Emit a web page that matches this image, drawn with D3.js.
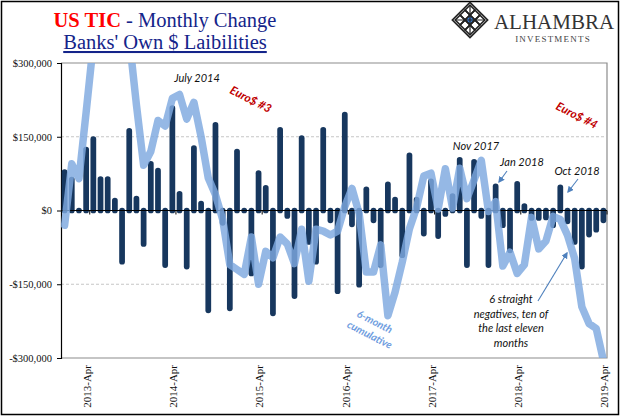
<!DOCTYPE html>
<html>
<head>
<meta charset="utf-8">
<script src="https://cdn.jsdelivr.net/npm/d3@7/dist/d3.min.js"></script>
<style>
  html, body { margin: 0; padding: 0; background: #ffffff; }
  svg { display: block; }
</style>
</head>
<body>
<div id="chart"></div>
<script>
"use strict";

// monthly change, thousands of dollars, Jan 2013 .. Apr 2019
const MONTH_FIRST = "2013-01";
const MONTH_LAST = "2019-04";
const MONTHLY_CHANGE = [
  78, 63, 0, 124, 145, 64, 64, 20, -104, 162, 24, -68,
  95, 81, -111, 208, 34, -114, 127, 14, -203, 174, -25, -199,
  120, 0, -128, 76, 46, -209, 164, -11, -174, 147, -64, -104,
  164, -20, -164, 195, -28, -151, 43, -20, -111, 53, 22, -91,
  112, 22, -47, 59, -52, -7, 29, 103, -111, 99, -11, -111,
  49, -30, -81, 54, 9, -15, -15, -14, -30, 47, -22, -64,
  -114, -49, -39, -20
];
// 6-month cumulative (clipped above $300,000)
const SIX_MONTH = [
  -30, 95, 65, 200, 340, 470, 460, 415, 310, 350, 215, 92,
  120, 183, 172, 228, 236, 186, 220, 150, 66, 32, -18, -110,
  -120, -130, -54, -150, -83, -96, -54, -68, -108, -38, -144, -38,
  -42, -50, -42, 8, 45, -6, -125, -125, -70, -214, -166, -105,
  -37, 6, 70, 76, 3, 85, 5, 86, 24, 62, 102, -2,
  18, -113, -85, -128, -110, -14, -78, -62, -12, -18, -50, -98,
  -196, -230, -240, -305
];
const Y_TICKS = [-300000, -150000, 0, 150000, 300000];
const X_TICK_LABELS = ["2013-Apr", "2014-Apr", "2015-Apr", "2016-Apr", "2017-Apr", "2018-Apr", "2019-Apr"];

const WIDTH = 623;
const HEIGHT = 420;
const PLOT = { left: 61, right: 607, top: 63, bottom: 358 };
const BAR_COLOR = "#17375e";
const LINE_COLOR = "#7ea8df";
const SERIF = '"Liberation Serif", "Times New Roman", serif';
const SANS = 'Lato, "Open Sans", sans-serif';

const parseMonth = d3.timeParse("%Y-%m");
const monthKey = d3.timeFormat("%Y-%b");
const months = d3.timeMonth.range(parseMonth(MONTH_FIRST), d3.timeMonth.offset(parseMonth(MONTH_LAST), 1)).map(monthKey);

const rows = months.map(function toRow(key, index) {
  return { key: key, change: MONTHLY_CHANGE[index] * 1000, cumulative: SIX_MONTH[index] * 1000 };
});

const svg = d3.select("#chart").append("svg").attr("width", WIDTH).attr("height", HEIGHT);

const x = d3.scaleBand().domain(months).range([PLOT.left, PLOT.right]).paddingInner(0.2).paddingOuter(0.1);
const y = d3.scaleLinear().domain([-300000, 300000]).range([PLOT.bottom, PLOT.top]);
const center = function centerOf(key) { return x(key) + x.bandwidth() / 2; };

const money = d3.formatLocale({ decimal: ".", thousands: ",", grouping: [3], currency: ["$", ""], minus: "-" }).format("$,.0f");

// outer frame
svg.append("rect").attr("x", 1.5).attr("y", 1.5).attr("width", 617).attr("height", 413)
  .attr("fill", "none").attr("stroke", "#000").attr("stroke-width", 1.5);

// title
const title = svg.append("text").attr("x", 165).attr("y", 27).attr("text-anchor", "middle")
  .attr("font-family", SERIF).attr("font-size", 20.5);
title.append("tspan").attr("fill", "#ff0000").attr("font-weight", "bold").text("US TIC");
title.append("tspan").attr("fill", "#14248a").text(" - Monthly Change");
svg.append("text").attr("x", 165).attr("y", 49).attr("text-anchor", "middle")
  .attr("font-family", SERIF).attr("font-size", 20.5).attr("fill", "#14248a")
  .attr("text-decoration", "underline").text("Banks' Own $ Laibilities");

// logo
const logo = svg.append("g").attr("transform", "translate(470,20) rotate(45)");
const cells = [-1, 0, 1];
cells.forEach(function row(r) {
  cells.forEach(function col(c) {
    logo.append("rect").attr("x", c * 7 - 3.5).attr("y", r * 7 - 3.5).attr("width", 7).attr("height", 7)
      .attr("fill", r === 0 && c === 0 ? "#3d7fd6" : "none").attr("stroke", "#222").attr("stroke-width", 1.6);
  });
});
logo.append("rect").attr("x", -12.5).attr("y", -12.5).attr("width", 25).attr("height", 25)
  .attr("fill", "none").attr("stroke", "#222").attr("stroke-width", 1.6);
logo.append("path").attr("d", "M-10.5,-10.5L10.5,10.5M10.5,-10.5L-10.5,10.5").attr("stroke", "#222").attr("stroke-width", 1.2);
svg.append("text").attr("x", 554).attr("y", 29).attr("text-anchor", "middle").attr("font-family", SERIF)
  .attr("font-size", 21).attr("fill", "#333").text("ALHAMBRA");
svg.append("text").attr("x", 553).attr("y", 42).attr("text-anchor", "middle").attr("font-family", SERIF)
  .attr("font-size", 9).attr("letter-spacing", 1.2).attr("fill", "#444").text("INVESTMENTS");

// plot frame and grid
svg.append("path").attr("d", "M" + PLOT.left + "," + y(300000) + "H" + PLOT.right + "V" + y(-300000) + "H" + PLOT.left)
  .attr("fill", "none").attr("stroke", "#8c8c8c").attr("stroke-width", 1.2);
svg.append("g").selectAll("line.grid").data([-150000, 150000]).join("line").attr("class", "grid")
  .attr("x1", PLOT.left).attr("x2", PLOT.right).attr("y1", y).attr("y2", y)
  .attr("stroke", "#b8b8b8").attr("stroke-width", 0.8).attr("stroke-dasharray", "3,2");

// y axis
const yAxis = svg.append("g").attr("transform", "translate(" + PLOT.left + ",0)")
  .call(d3.axisLeft(y).tickValues(Y_TICKS).tickFormat(money).tickSize(4).tickPadding(5));
yAxis.select(".domain").attr("stroke", "#000").attr("stroke-width", 1.2);
yAxis.selectAll("line").attr("stroke", "#000");
yAxis.selectAll("text").attr("font-family", SERIF).attr("font-size", 10.5).attr("fill", "#111");

// bars
svg.append("g").selectAll("line.bar").data(rows).join("line").attr("class", "bar")
  .attr("x1", function bx(d) { return center(d.key); }).attr("x2", function bx2(d) { return center(d.key); })
  .attr("y1", y(0)).attr("y2", function by(d) { return y(d.change); })
  .attr("stroke", BAR_COLOR).attr("stroke-width", x.bandwidth()).attr("stroke-linecap", "round");

// zero line with ticks between categories
svg.append("line").attr("x1", PLOT.left).attr("x2", PLOT.right).attr("y1", y(0)).attr("y2", y(0))
  .attr("stroke", "#000").attr("stroke-width", 1.2);
svg.append("g").selectAll("line.xtick").data(X_TICK_LABELS).join("line").attr("class", "xtick")
  .attr("x1", function tx(k) { return center(k) + x.step() / 2; }).attr("x2", function tx2(k) { return center(k) + x.step() / 2; })
  .attr("y1", y(0)).attr("y2", y(0) + 4).attr("stroke", "#000").attr("stroke-width", 1);

// x labels, rotated
svg.append("g").selectAll("text.xlab").data(X_TICK_LABELS).join("text").attr("class", "xlab")
  .attr("transform", function lt(k) { return "translate(" + (center(k) + 1) + ",365) rotate(-90)"; })
  .attr("text-anchor", "end").attr("dy", "0.35em").attr("font-family", SERIF).attr("font-size", 11).attr("fill", "#111")
  .text(function lab(k) { return k; });

// 6-month cumulative line
svg.append("clipPath").attr("id", "plot-clip").append("rect")
  .attr("x", PLOT.left).attr("y", PLOT.top).attr("width", PLOT.right - PLOT.left).attr("height", PLOT.bottom - PLOT.top);
const line = d3.line().x(function lx(d) { return center(d.key); }).y(function ly(d) { return y(d.cumulative); });
svg.append("path").datum(rows).attr("clip-path", "url(#plot-clip)").attr("d", line)
  .attr("fill", "none").attr("stroke", LINE_COLOR).attr("stroke-opacity", 0.82).attr("stroke-width", 7.5)
  .attr("stroke-linejoin", "round").attr("stroke-linecap", "round");

// annotations
function note(text, px, py, opts) {
  const o = opts || {};
  const t = svg.append("text").attr("x", px).attr("y", py).attr("text-anchor", o.anchor || "middle")
    .attr("font-family", SANS).attr("font-style", "italic").attr("font-size", o.size || 11)
    .attr("font-weight", o.bold ? "bold" : "normal").attr("fill", o.color || "#111").text(text);
  if (o.rotate) t.attr("transform", "rotate(" + o.rotate + "," + px + "," + py + ")");
  return t;
}
note("July 2014", 197, 82);
note("Euro$ #3", 249, 103, { bold: true, color: "#c00000", rotate: 27, size: 11.5 });
note("Euro$ #4", 575, 119, { bold: true, color: "#c00000", rotate: 27, size: 11.5 });
note("Nov 2017", 476, 150);
note("Jan 2018", 522, 166);
note("Oct 2018", 577, 175);
note("6-month", 373, 325, { bold: true, color: "#6f9de0", rotate: 27, size: 10.5 });
note("cumulative", 368, 338, { bold: true, color: "#6f9de0", rotate: 27, size: 10.5 });
["6 straight", "negatives, ten of", "the last eleven", "months"].forEach(function line4(text, i) {
  note(text, 511, 303 + i * 14.7);
});

svg.append("defs").append("marker").attr("id", "arrow").attr("viewBox", "0 0 10 10").attr("refX", 8).attr("refY", 5)
  .attr("markerWidth", 6).attr("markerHeight", 6).attr("orient", "auto")
  .append("path").attr("d", "M0,0L10,5L0,10z").attr("fill", "#4f81bd");
[[507, 171, 499, 182], [578, 179, 568, 192], [538, 301, 567, 253]].forEach(function arrow(a) {
  svg.append("line").attr("x1", a[0]).attr("y1", a[1]).attr("x2", a[2]).attr("y2", a[3])
    .attr("stroke", "#4f81bd").attr("stroke-width", 1.1).attr("marker-end", "url(#arrow)");
});
</script>
</body>
</html>
